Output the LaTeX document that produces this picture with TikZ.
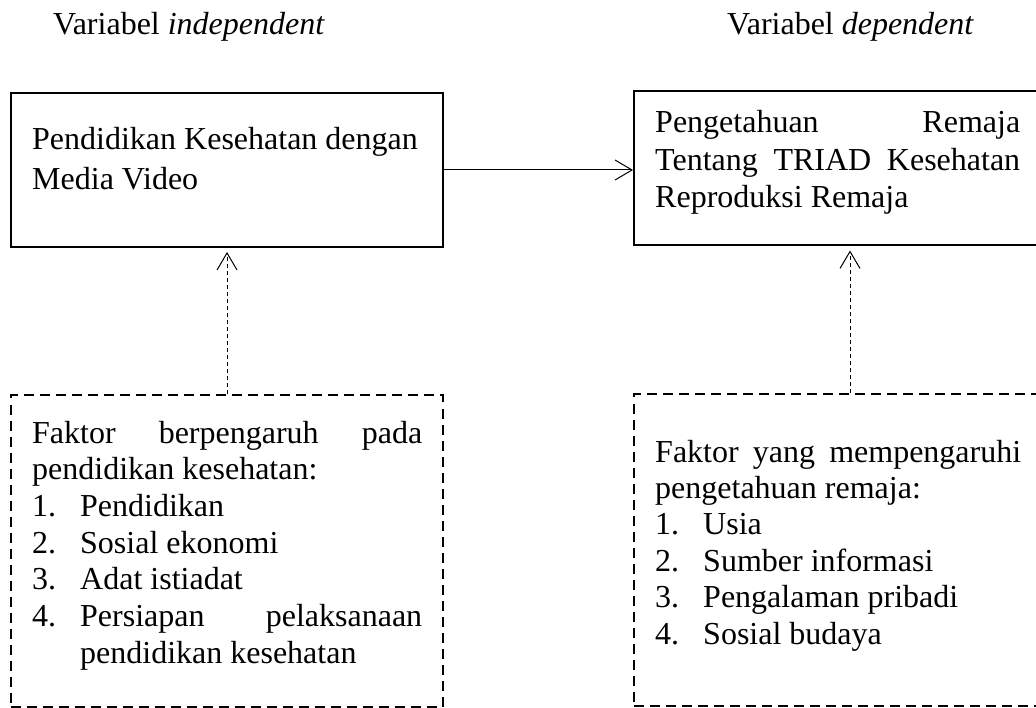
\documentclass[tikz,border=0pt]{standalone}
\usepackage{fontspec}
\setmainfont{Liberation Serif}
\usetikzlibrary{arrows.meta}
\newcommand\jl[1]{\hbox to \hsize{#1}}
\newcommand\li[2]{\hbox to \hsize{\hbox to 48pt{#1\hfil}#2}}
\begin{document}
\begin{tikzpicture}[x=1pt,y=-1pt,
  solidbox/.style={draw, line width=2pt, minimum width=432pt, minimum height=154pt, inner sep=0pt},
  dashbox/.style={draw, line width=2pt, dash pattern=on 10pt off 6pt, minimum width=432pt, minimum height=311pt, inner sep=0pt},
  txt/.style={anchor=base west, inner sep=0pt, font=\fontsize{32}{36.7}\selectfont},
  conn/.style={line width=1pt, -{Straight Barb[length=17pt,width=20pt,line width=1pt]}},
  dconn/.style={conn, dash pattern=on 4pt off 3pt, shorten >=4pt}]
\useasboundingbox (0,0) rectangle (1036,708);
\clip (0,0) rectangle (1036,708);
\node[solidbox] (L1) at (227,170) {};
\node[solidbox] (R1) at (850,168.5) {};
\node[dashbox] (L2) at (227,551) {};
\node[dashbox] (R2) at (850,550) {};
\node[txt] (h1) at (53,35) {Variabel \textit{independent}};
\node[txt] (h2) at (727,35) {Variabel \textit{dependent}};
\node[txt] (t1) at (32,150) {\parbox[t]{390pt}{\baselineskip=40pt
  \jl{Pendidikan Kesehatan dengan\hfil}
  \jl{Media Video\hfil}}};
\node[txt] (t2) at (655,133) {\parbox[t]{365pt}{\baselineskip=37.5pt
  \jl{Pengetahuan\hfill Remaja}
  \jl{Tentang\hfill TRIAD\hfill Kesehatan}
  \jl{Reproduksi Remaja\hfil}}};
\node[txt] (t3) at (32,443) {\parbox[t]{390pt}{\baselineskip=36.7pt
  \jl{Faktor\hfill berpengaruh\hfill pada}
  \jl{pendidikan kesehatan:\hfil}
  \li{1.}{Pendidikan\hfil}
  \li{2.}{Sosial ekonomi\hfil}
  \li{3.}{Adat istiadat\hfil}
  \li{4.}{Persiapan\hfill pelaksanaan}
  \li{}{pendidikan kesehatan\hfil}}};
\node[txt] (t4) at (655,462) {\parbox[t]{366pt}{\baselineskip=36.4pt
  \jl{Faktor\hfill yang\hfill mempengaruhi}
  \jl{pengetahuan remaja:\hfil}
  \li{1.}{Usia\hfil}
  \li{2.}{Sumber informasi\hfil}
  \li{3.}{Pengalaman pribadi\hfil}
  \li{4.}{Sosial budaya\hfil}}};
\draw[conn] (L1.east) -- (L1.east -| R1.west);
\draw[dconn] (L2.north) -- (L1.south);
\draw[dconn] (R2.north) -- (R1.south);
\end{tikzpicture}
\end{document}
